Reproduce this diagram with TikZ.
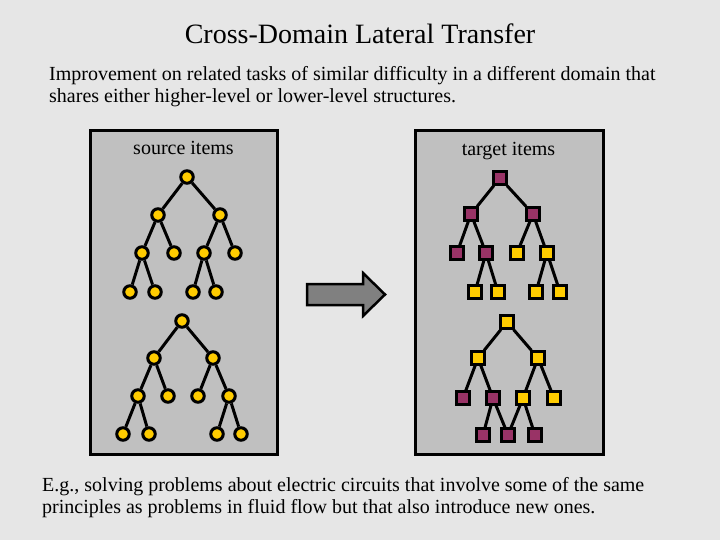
\documentclass[tikz,border=0pt]{standalone}
\usepackage{fontspec}
\setmainfont{Liberation Serif}
\definecolor{bgc}{RGB}{230,230,230}
\definecolor{boxc}{RGB}{192,192,192}
\definecolor{goldc}{RGB}{255,204,0}
\definecolor{purc}{RGB}{153,51,102}
\definecolor{arrc}{RGB}{128,128,128}
\tikzset{
  panel/.style={draw=black,line width=3pt,fill=boxc},
  cnode/.style={circle,draw=black,line width=3pt,fill=goldc,inner sep=0pt,minimum size=12.5pt},
  ysq/.style={rectangle,draw=black,line width=2.8pt,fill=goldc,inner sep=0pt,minimum size=12.5pt},
  psq/.style={rectangle,draw=black,line width=2.8pt,fill=purc,inner sep=0pt,minimum size=12.5pt},
  edge/.style={draw=black,line width=3pt},
  txt/.style={inner sep=0pt,font=\fontsize{20}{22}\selectfont,align=left}
}
\begin{document}
\begin{tikzpicture}[x=1pt,y=-1pt]
\useasboundingbox (0,0) rectangle (720,540);
\fill[bgc] (0,0) rectangle (720,540);
% title and texts
\node[inner sep=0pt,anchor=base,font=\fontsize{28}{30}\selectfont] (title) at (360,44) {Cross-Domain Lateral Transfer};
\node[txt,anchor=base west] (sub1) at (49,81) {Improvement on related tasks of similar difficulty in a different domain that};
\node[txt,anchor=base west] (sub2) at (49,103) {shares either higher-level or lower-level structures.};
\node[txt,anchor=base west] (eg1) at (42,491) {E.g., solving problems about electric circuits that involve some of the same};
\node[txt,anchor=base west] (eg2) at (42,513) {principles as problems in fluid flow but that also introduce new ones.};
% panels
\draw[panel] (90,131) rectangle (277,454);
\draw[panel] (415,131) rectangle (603,454);
\node[txt,anchor=base] (srclab) at (183.5,155) {source items};
\node[txt,anchor=base] (tgtlab) at (508.5,156) {target items};
% arrow
\draw[black,line width=2.5pt,fill=arrc,line join=miter]
  (307,284) -- (363,284) -- (363,273) -- (385,294.5) -- (363,316) -- (363,305) -- (307,305) -- cycle;
% source tree 1
\node[cnode] (a0) at (187,177) {};
\node[cnode] (a1) at (158,215) {};
\node[cnode] (a2) at (220,215) {};
\node[cnode] (a3) at (142,253) {};
\node[cnode] (a4) at (174,253) {};
\node[cnode] (a5) at (204,253) {};
\node[cnode] (a6) at (235,253) {};
\node[cnode] (a7) at (130,292) {};
\node[cnode] (a8) at (155,292) {};
\node[cnode] (a9) at (193,292) {};
\node[cnode] (a10) at (216,292) {};
% source tree 2
\node[cnode] (b0) at (182,321) {};
\node[cnode] (b1) at (154,358) {};
\node[cnode] (b2) at (213,358) {};
\node[cnode] (b3) at (138,396) {};
\node[cnode] (b4) at (168,396) {};
\node[cnode] (b5) at (198,396) {};
\node[cnode] (b6) at (229,396) {};
\node[cnode] (b7) at (123,434) {};
\node[cnode] (b8) at (149,434) {};
\node[cnode] (b9) at (217,434) {};
\node[cnode] (b10) at (241,434) {};
% target tree 1
\node[psq] (c0) at (500,178) {};
\node[psq] (c1) at (471,214) {};
\node[psq] (c2) at (533,214) {};
\node[psq] (c3) at (457,253) {};
\node[psq] (c4) at (486,253) {};
\node[ysq] (c5) at (517,253) {};
\node[ysq] (c6) at (547,253) {};
\node[ysq] (c7) at (475,292) {};
\node[ysq] (c8) at (498,292) {};
\node[ysq] (c9) at (536,292) {};
\node[ysq] (c10) at (560,292) {};
% target tree 2
\node[ysq] (d0) at (507,322) {};
\node[ysq] (d1) at (478,358) {};
\node[ysq] (d2) at (538,358) {};
\node[psq] (d3) at (463,398) {};
\node[psq] (d4) at (493,398) {};
\node[ysq] (d5) at (523,398) {};
\node[ysq] (d6) at (554,398) {};
\node[psq] (d7) at (483,435) {};
\node[psq] (d8) at (508,435) {};
\node[psq] (d9) at (535,435) {};
% edges
\path[edge]
  (a0) -- (a1) (a0) -- (a2) (a1) -- (a3) (a1) -- (a4) (a2) -- (a5) (a2) -- (a6)
  (a3) -- (a7) (a3) -- (a8) (a5) -- (a9) (a5) -- (a10)
  (b0) -- (b1) (b0) -- (b2) (b1) -- (b3) (b1) -- (b4) (b2) -- (b5) (b2) -- (b6)
  (b3) -- (b7) (b3) -- (b8) (b6) -- (b9) (b6) -- (b10)
  (c0) -- (c1) (c0) -- (c2) (c1) -- (c3) (c1) -- (c4) (c2) -- (c5) (c2) -- (c6)
  (c4) -- (c7) (c4) -- (c8) (c6) -- (c9) (c6) -- (c10)
  (d0) -- (d1) (d0) -- (d2) (d1) -- (d3) (d1) -- (d4) (d2) -- (d5) (d2) -- (d6)
  (d4) -- (d7) (d4) -- (d8) (d5) -- (d8) (d5) -- (d9);
\end{tikzpicture}
\end{document}
